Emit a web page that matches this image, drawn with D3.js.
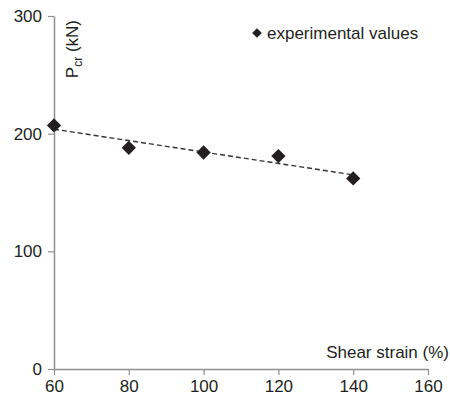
<!DOCTYPE html>
<html>
<head>
<meta charset="utf-8">
<script src="https://cdn.jsdelivr.net/npm/d3@7"></script>
<style>
  body { margin: 0; background: #fff; }
  text { font-family: "Liberation Sans", Arial, sans-serif; fill: #231f20; }
</style>
</head>
<body>
<div id="chart"></div>
<script>
// chart data
const shearStrain = [60, 80, 100, 120, 140];
const pcr = [207, 188, 184, 181, 162];
const xTicks = [60, 80, 100, 120, 140, 160];
const yTicks = [0, 100, 200, 300];

const svgWidth = 450;
const svgHeight = 401;
const margin = { top: 16, right: 22, bottom: 32, left: 54 };
const width = svgWidth - margin.left - margin.right;
const height = svgHeight - margin.top - margin.bottom;

const svg = d3.select("#chart")
  .append("svg")
  .attr("width", svgWidth)
  .attr("height", svgHeight);

const chartGroup = svg.append("g")
  .attr("transform", `translate(${margin.left}, ${margin.top})`);

const x = d3.scaleLinear().domain([60, 160]).range([0, width]);
const y = d3.scaleLinear().domain([0, 300]).range([height, 0]);

// x axis
const xAxis = chartGroup.append("g")
  .attr("transform", `translate(0, ${height})`)
  .call(d3.axisBottom(x).tickValues(xTicks).tickSize(6).tickPadding(2).tickSizeOuter(0));

// y axis
const yAxis = chartGroup.append("g")
  .call(d3.axisLeft(y).tickValues(yTicks).tickSize(6).tickPadding(6).tickSizeOuter(0));

[xAxis, yAxis].forEach(a => {
  a.select(".domain").attr("stroke", "#8f8f8f").attr("stroke-width", 1.5);
  a.selectAll(".tick line").attr("stroke", "#8f8f8f").attr("stroke-width", 1.2);
  a.selectAll(".tick text").style("font-size", "17px").attr("fill", "#231f20");
});
xAxis.selectAll(".tick text").attr("dy", "0.9em");

// linear trend line (least squares)
const mx = d3.mean(shearStrain);
const my = d3.mean(pcr);
const slope = d3.sum(shearStrain, (d, i) => (d - mx) * (pcr[i] - my)) /
  d3.sum(shearStrain, d => (d - mx) * (d - mx));
const trend = d => my + slope * (d - mx);
const xMin = d3.min(shearStrain), xMax = d3.max(shearStrain);

chartGroup.append("line")
  .attr("x1", x(xMin)).attr("y1", y(trend(xMin)))
  .attr("x2", x(xMax)).attr("y2", y(trend(xMax)))
  .attr("stroke", "#333")
  .attr("stroke-width", 1.4)
  .attr("stroke-dasharray", "5,3");

// points
const diamond = d3.symbol().type(d3.symbolDiamond2).size(130);
chartGroup.selectAll(".pt")
  .data(shearStrain)
  .enter()
  .append("path")
  .attr("class", "pt")
  .attr("d", diamond)
  .attr("transform", (d, i) => `translate(${x(d)}, ${y(pcr[i])})`)
  .attr("fill", "#231f20");

// axis titles
const yLabel = chartGroup.append("text")
  .attr("transform", `translate(24, 4) rotate(-90)`)
  .attr("text-anchor", "end")
  .style("font-size", "17px");
yLabel.append("tspan").text("P");
yLabel.append("tspan").attr("dy", 4).style("font-size", "12px").text("cr");
yLabel.append("tspan").attr("dy", -4).text(" (kN)");

chartGroup.append("text")
  .attr("x", width + 21)
  .attr("y", height - 11)
  .attr("text-anchor", "end")
  .style("font-size", "17px")
  .text("Shear strain (%)");

// legend
const legend = svg.append("g").attr("transform", "translate(257, 33)");
legend.append("path")
  .attr("d", d3.symbol().type(d3.symbolDiamond2).size(60))
  .attr("fill", "#231f20");
legend.append("text")
  .attr("x", 10)
  .attr("y", 6)
  .style("font-size", "17px")
  .text("experimental values");
</script>
</body>
</html>
